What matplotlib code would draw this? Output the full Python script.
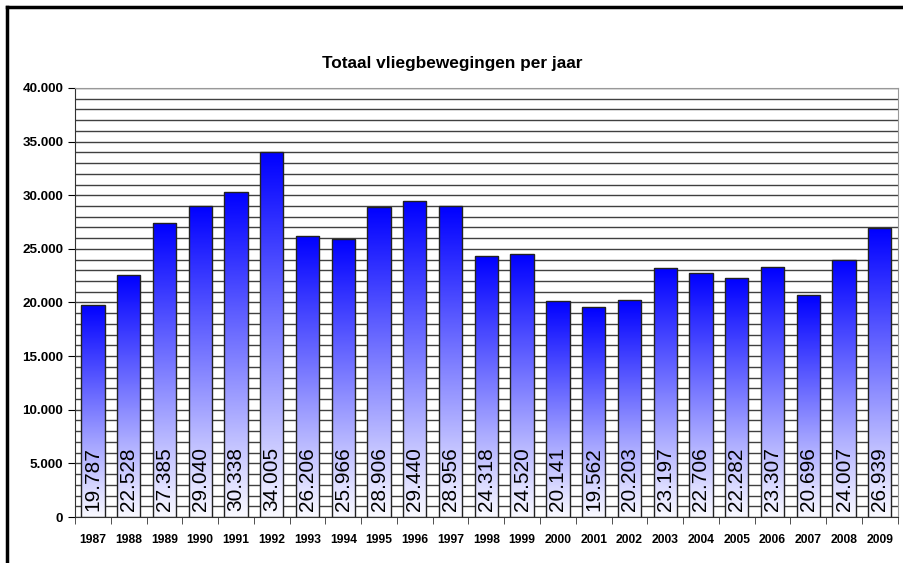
import numpy as np
import matplotlib.pyplot as plt
from matplotlib.colors import LinearSegmentedColormap
from matplotlib.ticker import MultipleLocator, FuncFormatter

# Data
years = ["1987", "1988", "1989", "1990", "1991", "1992", "1993", "1994",
         "1995", "1996", "1997", "1998", "1999", "2000", "2001", "2002",
         "2003", "2004", "2005", "2006", "2007", "2008", "2009"]
movements = [19787, 22528, 27385, 29040, 30338, 34005, 26206, 25966,
             28906, 29440, 28956, 24318, 24520, 20141, 19562, 20203,
             23197, 22706, 22282, 23307, 20696, 24007, 26939]
title = "Totaal vliegbewegingen per jaar"

plt.rcParams["font.family"] = ["Liberation Sans", "DejaVu Sans"]

fig = plt.figure(figsize=(9.04, 5.63), dpi=100)
ax = fig.add_axes([0.083, 0.0817, 0.910, 0.762])

# dots as thousands separator
def thousands(v, pos):
    return f"{int(v):,}".replace(",", ".")

x = np.arange(len(years))
width = 0.65

# gradient: white at bottom, blue at top
cmap = LinearSegmentedColormap.from_list("bluegrad", ["#FAFAFF", "#0000FF"])
grad = np.linspace(0, 1, 256).reshape(-1, 1)

bars = ax.bar(x, movements, width=width, facecolor="none",
              edgecolor="#222222", linewidth=1.0, zorder=3)
for b, val in zip(bars, movements):
    x0 = b.get_x()
    im = ax.imshow(grad, cmap=cmap, origin="lower", aspect="auto",
                   extent=[x0, x0 + b.get_width(), 0, val], zorder=2)
    im.set_clip_path(b)
    ax.text(b.get_x() + b.get_width() / 2, 550, thousands(val, None),
            rotation=90, ha="center", va="bottom", fontsize=15,
            color="black", zorder=4)

ax.set_xlim(-0.5, len(years) - 0.5)
ax.set_ylim(0, 40000)

ax.yaxis.set_major_locator(MultipleLocator(5000))
ax.yaxis.set_minor_locator(MultipleLocator(1000))
ax.yaxis.set_major_formatter(FuncFormatter(thousands))
ax.grid(axis="y", which="both", color="#404040", linewidth=1.0, zorder=0)
ax.set_axisbelow(True)

ax.set_xticks(x)
ax.set_xticklabels(years)
ax.set_xticks(np.arange(len(years) + 1) - 0.5, minor=True)
ax.tick_params(axis="x", which="major", length=0, pad=12, labelsize=8.7)
ax.tick_params(axis="x", which="minor", length=5, direction="out", color="#333333")
ax.tick_params(axis="y", which="major", length=5, direction="out", labelsize=9.7)
ax.tick_params(axis="y", which="minor", length=0)
for lbl in ax.get_xticklabels() + ax.get_yticklabels():
    lbl.set_fontweight("bold")

ax.spines["left"].set_color("#333333")
ax.spines["bottom"].set_color("#333333")
ax.spines["top"].set_color("#999999")
ax.spines["right"].set_color("#999999")

fig.text(0.5, 0.888, title, ha="center", va="center",
         fontsize=12.4, fontweight="bold")

# partial frame of the screenshot (left and top)
fig.add_artist(plt.Line2D([0.0075, 0.0075], [0, 0.988], color="black",
                          linewidth=2.5, transform=fig.transFigure))
fig.add_artist(plt.Line2D([0.0075, 0.997], [0.988, 0.988], color="black",
                          linewidth=2.5, transform=fig.transFigure))

fig.savefig("out.png", dpi=100)
